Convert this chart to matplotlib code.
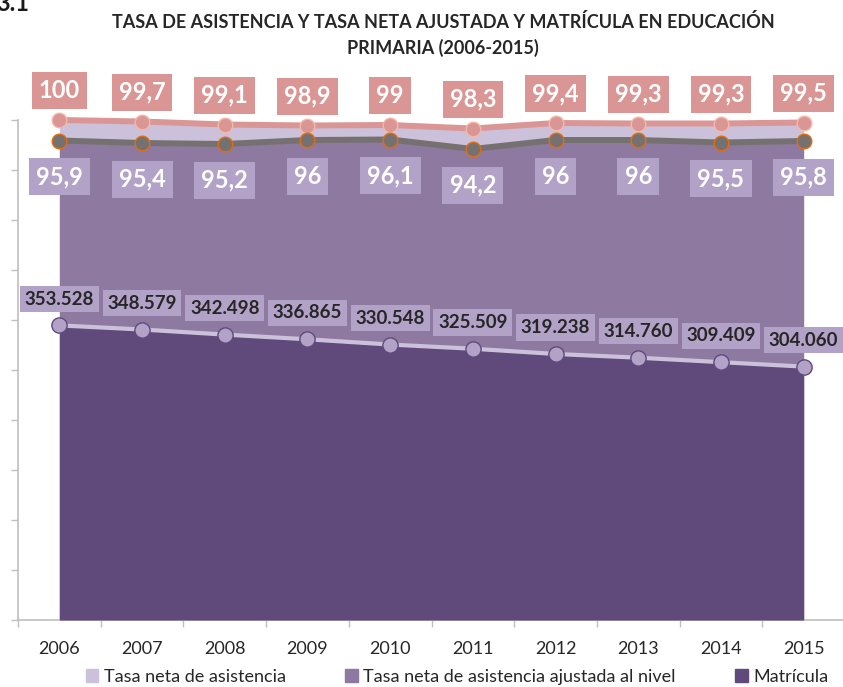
import matplotlib
matplotlib.use("Agg")
import matplotlib.pyplot as plt
from matplotlib.patches import Patch

plt.rcParams["font.family"] = ["Lato", "DejaVu Sans"]

years = ["2006", "2007", "2008", "2009", "2010", "2011", "2012", "2013", "2014", "2015"]
tasa_superior = [100, 99.7, 99.1, 98.9, 99, 98.3, 99.4, 99.3, 99.3, 99.5]
tasa_inferior = [95.9, 95.4, 95.2, 96, 96.1, 94.2, 96, 96, 95.5, 95.8]
matricula = [353528, 348579, 342498, 336865, 330548, 325509, 319238, 314760, 309409, 304060]

legend_labels = ["Tasa neta de asistencia",
                 "Tasa neta de asistencia ajustada al nivel",
                 "Matrícula"]

c_light = "#ccc1da"
c_mid = "#8e79a0"
c_dark = "#604a7b"
c_salmon = "#d99694"
c_grey = "#767171"
c_box = "#b3a2c7"


def fmt_dec(v):
    s = "{:g}".format(v)
    return s.replace(".", ",")


def fmt_miles(v):
    return "{:,}".format(v).replace(",", ".")


fig = plt.figure(figsize=(8.43, 6.87), dpi=100)
ax = fig.add_axes([18 / 843, 67 / 687, 827 / 843, 500 / 687])
x = list(range(len(years)))

ax.fill_between(x, 0, tasa_superior, color=c_light, lw=0, zorder=1)
ax.fill_between(x, 0, tasa_inferior, color=c_mid, lw=0, zorder=2)
ax.plot(x, tasa_superior, color=c_salmon, lw=4.3, marker="o", ms=10.5,
        mfc=c_salmon, mec="#f4b9a6", mew=1, zorder=4, clip_on=False)
ax.plot(x, tasa_inferior, color=c_grey, lw=4.3, marker="o", ms=10.5,
        mfc=c_grey, mec="#e46c0a", mew=1, zorder=4, clip_on=False)

for xi, v in zip(x, tasa_superior):
    ax.annotate(fmt_dec(v), (xi, v), xytext=(0, 21), textcoords="offset points",
                ha="center", va="center", color="white", fontsize=17, fontweight="bold",
                bbox=dict(boxstyle="square,pad=0.3", fc=c_salmon, ec="none"),
                zorder=6, annotation_clip=False)
for xi, v in zip(x, tasa_inferior):
    ax.annotate(fmt_dec(v), (xi, v), xytext=(0, -26), textcoords="offset points",
                ha="center", va="center", color="white", fontsize=17, fontweight="bold",
                bbox=dict(boxstyle="square,pad=0.3", fc=c_box, ec="none"),
                zorder=6, annotation_clip=False)

ax.set_xlim(-0.5, 9.5)
ax.set_ylim(0, 100)
ax.set_yticks(range(0, 101, 10))
ax.set_yticklabels([])
ax.set_xticks(x)
ax.set_xticklabels(years, fontsize=13, color="#262626")
ax.set_xticks([i - 0.5 for i in range(11)], minor=True)
ax.tick_params(axis="x", which="major", length=0, pad=15)
ax.tick_params(axis="x", which="minor", length=5, color="#bfbfbf", width=1)
ax.tick_params(axis="y", length=5, color="#bfbfbf", width=1)
for side in ["top", "right"]:
    ax.spines[side].set_visible(False)
for side in ["left", "bottom"]:
    ax.spines[side].set_color("#bfbfbf")
    ax.spines[side].set_linewidth(1.2)

ax2 = ax.twinx()
ax2.set_ylim(0, 600000)
ax2.fill_between(x, 0, matricula, color=c_dark, lw=0, zorder=1)
ax2.plot(x, matricula, color=c_light, lw=3, marker="o", ms=11,
         mfc=c_box, mec=c_dark, mew=1, zorder=3, clip_on=False)
for xi, v in zip(x, matricula):
    ax2.annotate(fmt_miles(v), (xi, v), xytext=(0, 19), textcoords="offset points",
                 ha="center", va="center", color="#262626", fontsize=13.5, fontweight="bold",
                 bbox=dict(boxstyle="square,pad=0.25", fc=c_box, ec="none"),
                 zorder=6, annotation_clip=False)
ax2.axis("off")

fig.text(443 / 843, 1 - 22 / 687, "TASA DE ASISTENCIA Y TASA NETA AJUSTADA Y MATRÍCULA EN EDUCACIÓN",
         ha="center", va="center", fontsize=13, fontweight="bold", color="#262626")
fig.text(443 / 843, 1 - 48 / 687, "PRIMARIA (2006-2015)",
         ha="center", va="center", fontsize=13, fontweight="bold", color="#262626")
fig.text(-0.005, 0.995, "3.1", ha="left", va="center", fontsize=17, fontweight="bold",
         color="#1a1a1a")

handles = [Patch(color=c_light), Patch(color=c_mid), Patch(color=c_dark)]
fig.legend(handles, legend_labels, loc="center", bbox_to_anchor=(457 / 843, 1 - 677 / 687),
           ncol=3, frameon=False, fontsize=13, handlelength=0.7, handleheight=0.7,
           handletextpad=0.3, columnspacing=3.3, labelcolor="#262626")

fig.savefig("out.png", dpi=100)
